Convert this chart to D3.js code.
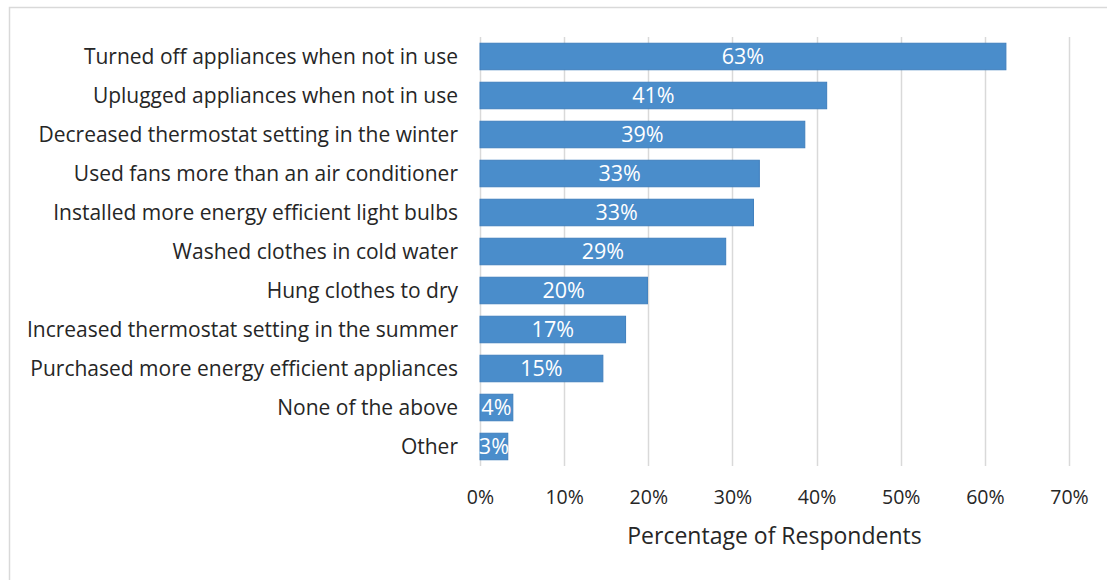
<!DOCTYPE html>
<html>
<head>
<meta charset="utf-8">
<script src="https://cdn.jsdelivr.net/npm/d3@7"></script>
<style>
  html, body { margin: 0; padding: 0; background: #fff; }
  svg { display: block; }
</style>
</head>
<body>
<svg id="chart" width="1107" height="580"></svg>
<script>
// Energy-saving actions, share of respondents (percent)
const categories = [
  "Turned off appliances when not in use",
  "Uplugged appliances when not in use",
  "Decreased thermostat setting in the winter",
  "Used fans more than an air conditioner",
  "Installed more energy efficient light bulbs",
  "Washed clothes in cold water",
  "Hung clothes to dry",
  "Increased thermostat setting in the summer",
  "Purchased more energy efficient appliances",
  "None of the above",
  "Other"
];
const values = [62.5, 41.2, 38.6, 33.2, 32.5, 29.2, 19.9, 17.3, 14.6, 3.9, 3.3];
const xTicks = [0, 10, 20, 30, 40, 50, 60, 70];
const xTitle = "Percentage of Respondents";

const font = "'Open Sans', sans-serif";
const svg = d3.select("#chart");

// frame around the chart area
svg.append("rect")
  .attr("x", 9.5).attr("y", 7.5)
  .attr("width", 1120).attr("height", 600)
  .attr("fill", "none").attr("stroke", "#d9d9d9").attr("stroke-width", 1.5);

const plot = { left: 480, right: 1069, top: 37, bottom: 466 };

const x = d3.scaleLinear().domain([0, 70]).range([plot.left, plot.right]);
const y = d3.scaleBand().domain(categories).range([plot.top, plot.bottom]).paddingInner(0.32).paddingOuter(0.16);

// vertical gridlines
svg.append("g")
  .selectAll("line")
  .data(xTicks)
  .join("line")
  .attr("x1", d => Math.round(x(d)) + 0.5).attr("x2", d => Math.round(x(d)) + 0.5)
  .attr("y1", plot.top).attr("y2", plot.bottom)
  .attr("stroke", "#d9d9d9").attr("stroke-width", 1.5);

// bars
svg.append("g")
  .selectAll("rect")
  .data(values)
  .join("rect")
  .attr("x", x(0))
  .attr("y", (d, i) => y(categories[i]))
  .attr("width", d => x(d) - x(0))
  .attr("height", y.bandwidth())
  .attr("fill", "#4a8dcb")
  .attr("stroke", "#3f7fbd").attr("stroke-width", 1);

// value labels centred in bars
svg.append("g")
  .selectAll("text")
  .data(values)
  .join("text")
  .attr("x", d => (x(d) + x(0)) / 2)
  .attr("y", (d, i) => y(categories[i]) + y.bandwidth() / 2)
  .attr("dy", "0.36em")
  .attr("text-anchor", "middle")
  .attr("fill", "#ffffff")
  .style("font-family", font).style("font-size", "21.5px")
  .text(d => Math.round(d) + "%");

// category axis
const yAxis = d3.axisLeft(y).tickSize(0).tickPadding(22);
const gy = svg.append("g").attr("transform", `translate(${plot.left},0)`).call(yAxis);
gy.select(".domain").remove();
gy.selectAll("text")
  .attr("dy", "0.38em")
  .attr("fill", "#262626")
  .style("font-family", font).style("font-size", "21px");

// value axis
const xAxis = d3.axisBottom(x).tickValues(xTicks).tickFormat(d => d + "%").tickSize(0).tickPadding(24);
const gx = svg.append("g").attr("transform", `translate(0,${plot.bottom})`).call(xAxis);
gx.select(".domain").remove();
gx.selectAll("text")
  .attr("fill", "#262626")
  .style("font-family", font).style("font-size", "19.5px");

svg.append("text")
  .attr("x", (plot.left + plot.right) / 2)
  .attr("y", 544)
  .attr("text-anchor", "middle")
  .attr("fill", "#262626")
  .style("font-family", font).style("font-size", "23px")
  .text(xTitle);
</script>
</body>
</html>
